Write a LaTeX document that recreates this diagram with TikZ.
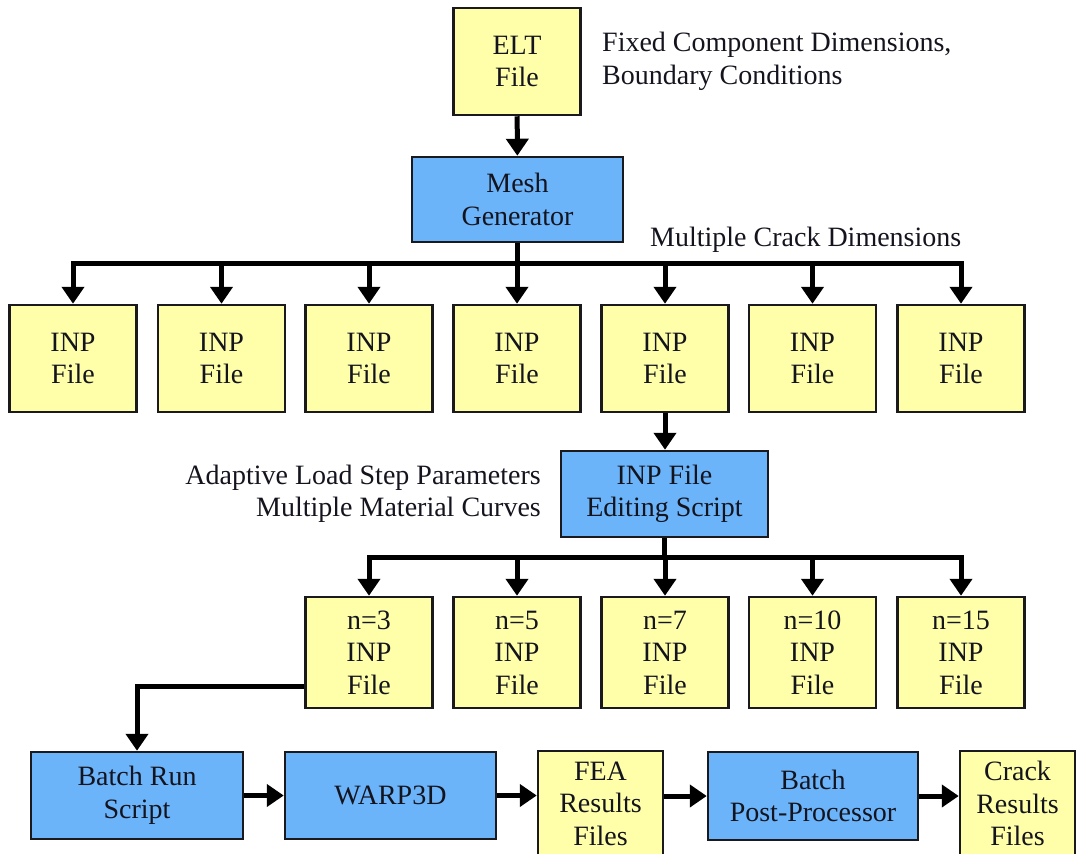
\documentclass[tikz,border=0pt]{standalone}
\usepackage{fontspec}
\setmainfont{Liberation Serif}
\usepackage{xcolor}
\usepackage{tikz}
\usetikzlibrary{arrows.meta}
\definecolor{FlowYellow}{RGB}{255, 255, 170}
\definecolor{FlowBlue}{RGB}{108, 180, 250}
\definecolor{FlowBorder}{RGB}{25, 25, 30}
\definecolor{FlowText}{RGB}{20, 20, 30}

\begin{document}
\begin{tikzpicture}[x=1pt,y=-1pt,
  filebox/.style={draw=FlowBorder, fill=FlowYellow, line width=2.5pt, inner sep=0pt,
    align=center, text=FlowText, font=\fontsize{28}{32.5}\selectfont},
  toolbox/.style={filebox, fill=FlowBlue},
  inpbox/.style={filebox, minimum width=127pt, minimum height=107pt},
  runbox/.style={filebox, minimum width=127pt, minimum height=111pt},
  flowarrow/.style={line width=5pt, -{Triangle[width=22pt,length=17pt]}},
  note/.style={inner sep=0pt, text=FlowText, font=\fontsize{28}{32.5}\selectfont}]
  \path[use as bounding box] (0,0) rectangle (1079,854);

  % Mesh generation
  \node[filebox, minimum width=127pt, minimum height=107pt] (elt) at (517,61.5) {ELT\\File};
  \node[note, anchor=west, align=left] (fixednote) at (602,61.5)
    {Fixed Component Dimensions,\\Boundary Conditions};
  \node[toolbox, minimum width=211pt, minimum height=85pt] (mesh) at (517.5,199.5) {Mesh\\Generator};
  \node[note, anchor=base west] (cracknote) at (650,246) {Multiple Crack Dimensions};

  % INP files, one per crack
  \node[inpbox] (inp1) at (73,358.5) {INP\\File};
  \node[inpbox] (inp2) at (221.5,358.5) {INP\\File};
  \node[inpbox] (inp3) at (369,358.5) {INP\\File};
  \node[inpbox] (inp4) at (517,358.5) {INP\\File};
  \node[inpbox] (inp5) at (665,358.5) {INP\\File};
  \node[inpbox] (inp6) at (812.5,358.5) {INP\\File};
  \node[inpbox] (inp7) at (961,358.5) {INP\\File};

  % Editing script
  \node[toolbox, minimum width=207pt, minimum height=86pt] (edit) at (664.5,494) {INP File\\Editing Script};
  \node[note, anchor=east, align=right] (loadnote) at (541,494)
    {Adaptive Load Step Parameters\\Multiple Material Curves};

  % INP files, one per n
  \node[runbox] (n3) at (369,652.5) {n=3\\INP\\File};
  \node[runbox] (n5) at (517,652.5) {n=5\\INP\\File};
  \node[runbox] (n7) at (665,652.5) {n=7\\INP\\File};
  \node[runbox] (n10) at (812.5,652.5) {n=10\\INP\\File};
  \node[runbox] (n15) at (961,652.5) {n=15\\INP\\File};

  % Batch run and post-processing
  \node[toolbox, minimum width=212pt, minimum height=87pt] (batch) at (137,795.5) {Batch Run\\Script};
  \node[toolbox, minimum width=211pt, minimum height=87pt] (warp) at (390.5,795.5) {WARP3D};
  \node[filebox, minimum width=125pt, minimum height=105pt] (fea) at (600.5,803.5) {FEA\\Results\\Files};
  \node[toolbox, minimum width=210pt, minimum height=88pt] (post) at (813,796) {Batch\\Post-Processor};
  \node[filebox, minimum width=115pt, minimum height=105pt] (crack) at (1017.5,803.5) {Crack\\Results\\Files};

  % Connectors
  \coordinate (bus1) at (517,263);
  \coordinate (bus2) at (665,557);
  \draw[flowarrow] (elt) -- (mesh);
  \draw[flowarrow] (mesh.south) -- (mesh.south |- bus1) -| (inp1.north);
  \draw[flowarrow] (mesh.south) -- (mesh.south |- bus1) -| (inp2.north);
  \draw[flowarrow] (mesh.south) -- (mesh.south |- bus1) -| (inp3.north);
  \draw[flowarrow] (mesh.south) -- (mesh.south |- bus1) -| (inp4.north);
  \draw[flowarrow] (mesh.south) -- (mesh.south |- bus1) -| (inp5.north);
  \draw[flowarrow] (mesh.south) -- (mesh.south |- bus1) -| (inp6.north);
  \draw[flowarrow] (mesh.south) -- (mesh.south |- bus1) -| (inp7.north);
  \draw[flowarrow] (inp5.south) -- (inp5.south |- edit.north);
  \draw[flowarrow] (edit.south) -- (edit.south |- bus2) -| (n3.north);
  \draw[flowarrow] (edit.south) -- (edit.south |- bus2) -| (n5.north);
  \draw[flowarrow] (edit.south) -- (edit.south |- bus2) -| (n7.north);
  \draw[flowarrow] (edit.south) -- (edit.south |- bus2) -| (n10.north);
  \draw[flowarrow] (edit.south) -- (edit.south |- bus2) -| (n15.north);
  \draw[flowarrow] ([yshift=-33.5pt]n3.west) -| (batch.north);
  \draw[flowarrow] (batch) -- (warp);
  \draw[flowarrow] (warp.east) -- (warp.east -| fea.west);
  \draw[flowarrow] (post.west -| fea.east) -- (post.west);
  \draw[flowarrow] (post.east) -- (post.east -| crack.west);
\end{tikzpicture}
\end{document}
